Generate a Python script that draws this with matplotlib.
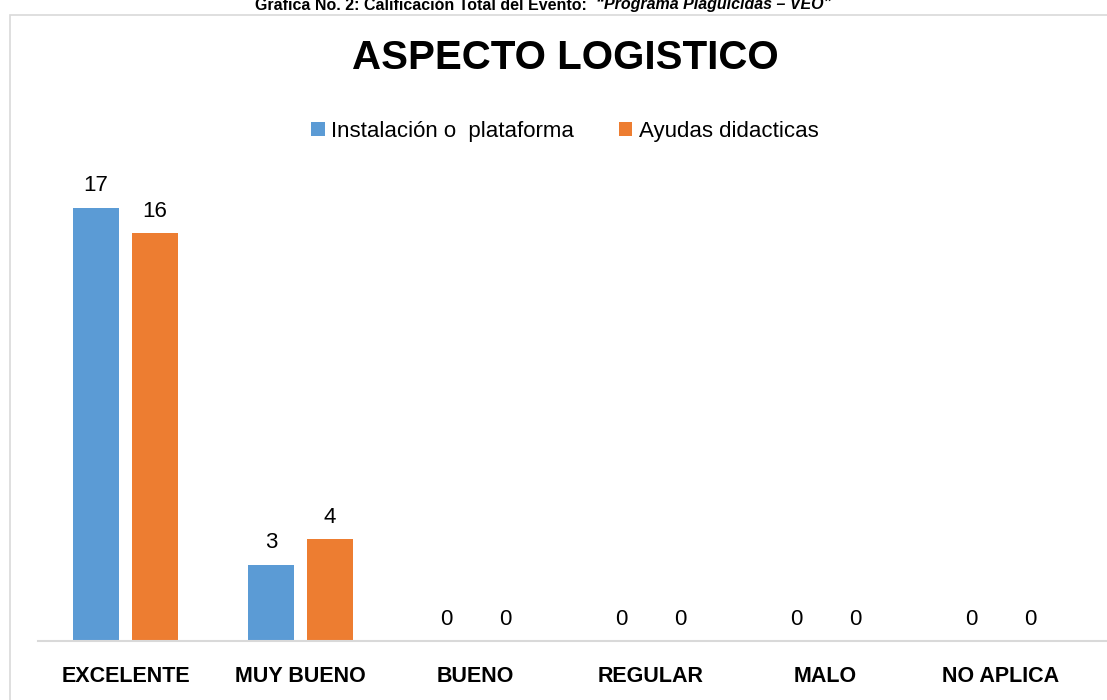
import matplotlib
matplotlib.use("Agg")
import matplotlib.pyplot as plt
import numpy as np
from matplotlib.patches import Rectangle

categories = ["EXCELENTE", "MUY BUENO", "BUENO", "REGULAR", "MALO", "NO APLICA"]
series_names = ["Instalación o  plataforma", "Ayudas didacticas"]
instalacion = [17, 3, 0, 0, 0, 0]
ayudas = [16, 4, 0, 0, 0, 0]
colors = ["#5B9BD5", "#ED7D31"]

W, H = 1107, 700
fig = plt.figure(figsize=(W / 100, H / 100), dpi=100)
FAM = ["Liberation Sans", "DejaVu Sans"]

# outer chart frame
fig.patches.append(Rectangle((10 / W, -0.01), 1.2, (H - 15) / H + 0.01, transform=fig.transFigure,
                             fill=False, edgecolor="#D9D9D9", linewidth=1.2))

# caption (partly clipped at top, as in the reference)
t1 = fig.text(255 / W, 1 - 5 / H, "Grafica No. 2: Calificación Total del Evento:  ", fontsize=11.5,
              fontweight="bold", family=FAM, ha="left", va="center")
fig.canvas.draw()
ext = t1.get_window_extent()
fig.text(ext.x1 / W, 1 - 5 / H, "\u201cPrograma Plaguicidas \u2013 VEO\u201d", fontsize=11.5,
         fontweight="bold", style="italic", family=FAM, ha="left", va="center")

left, right = 38, 1088
bottom_px, top_px = 641, 156.5
ax = fig.add_axes([left / W, 1 - bottom_px / H, (right - left) / W, (bottom_px - top_px) / H])
x = np.arange(len(categories))
width = 0.263
off = 0.169
b1 = ax.bar(x - off, instalacion, width, color=colors[0], label=series_names[0])
b2 = ax.bar(x + off, ayudas, width, color=colors[1], label=series_names[1])
for bars, vals in ((b1, instalacion), (b2, ayudas)):
    for r, v in zip(bars, vals):
        ax.text(r.get_x() + r.get_width() / 2, v + 0.45, str(v), ha="center", va="bottom",
                fontsize=16, family=FAM)

ax.set_xlim(-0.5, len(categories) - 0.5)
ax.set_ylim(0, 19)
ax.set_yticks([])
ax.set_xticks(x)
ax.set_xticklabels(categories, fontsize=15.5, fontweight="bold", family=FAM)
ax.tick_params(axis="x", length=0, pad=18)
for s in ["top", "right", "left"]:
    ax.spines[s].set_visible(False)
ax.spines["bottom"].set_color("#D9D9D9")
ax.spines["bottom"].set_linewidth(1.5)
ax.spines["bottom"].set_bounds(-0.5, len(categories) - 0.4)

fig.text(565 / W, 1 - 58 / H, "ASPECTO LOGISTICO", fontsize=29, fontweight="bold",
         family=FAM, ha="center", va="center")

fig.legend(handles=[b1, b2], labels=series_names, loc="center", bbox_to_anchor=(565 / W, 1 - 131 / H),
           ncol=2, frameon=False, prop={"family": FAM, "size": 16},
           handlelength=0.6, handleheight=0.6, handletextpad=0.3, columnspacing=2.0)

fig.savefig("out.png", dpi=100)
